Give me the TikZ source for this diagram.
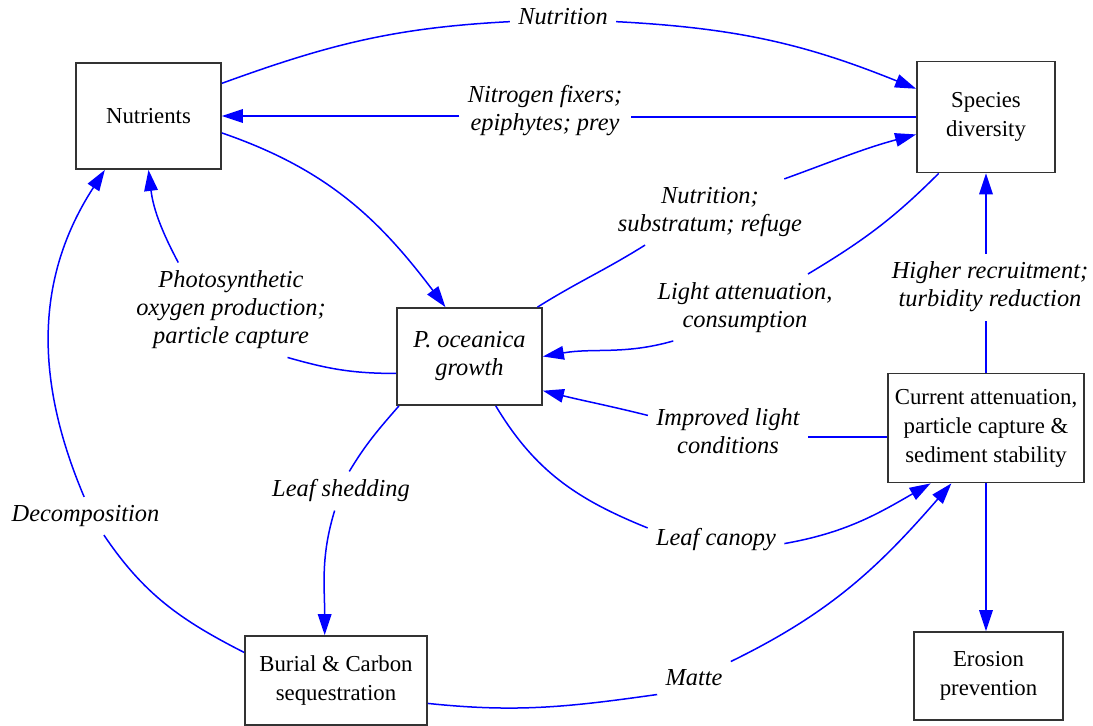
\documentclass[tikz,border=0pt]{standalone}
\usepackage{fontspec}
\setmainfont{Liberation Serif}
\usetikzlibrary{arrows.meta}

\begin{document}
\begin{tikzpicture}[x = 0.5pt, y = 0.5pt, font = \fontsize{11.4}{14.5}\selectfont,
  box/.style = {draw = black!80, line width = 0.9pt, align = center},
  lbl/.style = {font = \fontsize{12.2}{14}\selectfont\itshape, align = center, inner sep = 4pt},
  edge/.style = {blue, line width = 0.75pt},
  arr/.style = {edge, -{Triangle[length = 10.5pt, width = 6.8pt]}}]
\useasboundingbox (0,0) rectangle (1093,725);
\node [box, minimum width = 72.5pt, minimum height = 53pt] (nut) at (148.5,609) {Nutrients};
\node [box, minimum width = 69pt, minimum height = 55.5pt] (spec) at (986,608) {Species\\diversity};
\node [box, minimum width = 72.5pt, minimum height = 48.5pt, font = \fontsize{12.2}{14}\selectfont\itshape] (pog) at (469.5,368.5) {P. oceanica\\growth};
\node [box, minimum width = 97.5pt, minimum height = 54.5pt] (cur) at (986,297) {Current attenuation,\\particle capture \&\\sediment stability};
\node [box, minimum width = 91pt, minimum height = 44.5pt] (bur) at (336,44.5) {Burial \& Carbon\\sequestration};
\node [box, minimum width = 74.5pt, minimum height = 44pt] (ero) at (988.5,49) {Erosion\\prevention};
\node [lbl] (lnutr) at (563,708) {Nutrition};
\node [lbl] (lfix) at (545,614) {Nitrogen fixers;\\epiphytes; prey};
\node [lbl] (lsub) at (710,513) {Nutrition;\\substratum; refuge};
\node [lbl] (lphot) at (231,415) {Photosynthetic\\oxygen production;\\particle capture};
\node [lbl] (llight) at (745,417.5) {Light attenuation,\\consumption};
\node [lbl] (lrec) at (990,438) {Higher recruitment;\\turbidity reduction};
\node [lbl] (limp) at (728,294) {Improved light\\conditions};
\node [lbl] (lshed) at (341,234) {Leaf shedding};
\node [lbl] (ldec) at (85.5,209) {Decomposition};
\node [lbl] (lcan) at (716,185) {Leaf canopy};
\node [lbl] (lmat) at (694,47) {Matte};
\draw [edge] (nut.24) to [out = 20, in = 183] (lnutr.185);
\draw [arr] (lnutr.-5) to [out = -3, in = 158] (spec.158);
\draw [edge] (spec.west) -- (spec.west -| lfix.east);
\draw [arr] (lfix.west |- nut.east) -- (nut.east);
\draw [edge] (pog.36) to [out = 32, in = 212] (lsub.207);
\draw [arr] (lsub.24) to [out = 20, in = 195] (spec.194);
\draw [edge] (spec.230) to [out = 225, in = 31] (llight.28);
\draw [arr] (llight.205) to [out = 196, in = 10] (pog.east);
\draw [arr] (nut.-13) to [out = -19, in = 127] (pog.116);
\draw [edge] (pog.193) to [out = 180, in = -16] (lphot.-40);
\draw [arr] (lphot.138) to [out = 118, in = -83] (nut.south);
\draw [edge] (bur.163) to [out = 153, in = -56] (ldec.-46);
\draw [arr] (ldec.94) to [out = 113, in = 237] (nut.231);
\draw [edge] (pog.215) to [out = 229, in = 59] (lshed.67);
\draw [arr] (lshed.252) to [out = 253, in = 90] (bur.104);
\draw [edge] ([yshift = -4.5pt] cur.west) -- ([yshift = -4.5pt] cur.west -| limp.east);
\draw [arr] (limp.169) to [out = 166, in = -14] (pog.-25);
\draw [edge] (pog.-62) to [out = -59, in = 158] (lcan.170);
\draw [arr] (lcan.-3) to [out = 10, in = 210] (cur.225);
\draw [edge] (bur.-14) to [out = -6, in = 188] (lmat.south west);
\draw [arr] (lmat.north east) to [out = 26, in = 229] (cur.238);
\draw [edge] (cur.north) -- (cur.north |- lrec.south);
\draw [arr] (spec.south |- lrec.north) -- (spec.south);
\draw [arr] (cur.south) -- (cur.south |- ero.north);
\end{tikzpicture}
\end{document}
